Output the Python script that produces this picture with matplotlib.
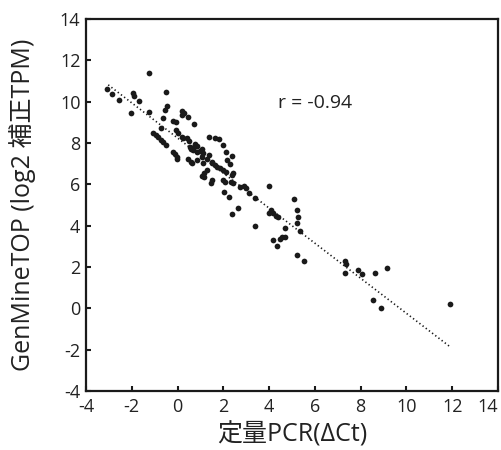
#!/usr/bin/env python3
"""Scatter of GenMineTOP expression vs qPCR delta-Ct, with fitted trend line."""

import matplotlib
matplotlib.use("Agg")
import matplotlib.pyplot as plt

plt.rcParams["font.family"] = ["Open Sans", "Noto Sans CJK JP", "DejaVu Sans"]
plt.rcParams["axes.unicode_minus"] = False

# qPCR delta-Ct (x) and GenMineTOP log2 corrected TPM (y)
pcr_dct = [
    -3.08, -2.88, -2.55, -2.03, -1.96, -1.90, -1.70, -1.24, -1.24, -0.51,
    -0.45, -0.56, -0.64, -1.06, -0.94, -0.84, -0.72, -0.62, -0.51, -0.72,
    -0.19, -0.07, 0.18, 0.28, 0.21, 0.47, 0.73, -0.07, 0.03, 0.18,
    0.25, 0.40, 0.48, -0.21, -0.11, -0.04, -0.01, 0.47, 0.57, 0.64,
    0.75, 0.86, 0.72, 0.53, 0.59, 0.69, 0.86, 0.98, 1.05, 1.12,
    1.08, 1.37, 1.65, 1.81, 2.00, 1.37, 1.27, 1.49, 1.63, 1.73,
    1.85, 2.00, 2.10, 0.83, 1.12, 1.05, 1.15, 1.49, 2.10, 2.39,
    2.14, 2.29, 2.43, 2.36, 2.07, 2.00, 1.49, 1.46, 2.33, 2.41,
    2.72, 2.91, 2.99, 3.10, 3.38, 4.00, 2.04, 2.24, 2.39, 2.65,
    3.37, 3.98, 4.08, 4.18, 4.29, 4.40, 4.15, 4.35, 4.47, 4.55,
    4.69, 4.69, 5.08, 5.20, 5.27, 5.20, 5.34, 5.20, 5.53, 7.31,
    7.34, 7.31, 7.90, 8.04, 8.62, 9.16, 8.55, 8.88, 11.91, 1.27,
    1.16,
]
genmine_tpm = [
    10.60, 10.37, 10.09, 9.43, 10.43, 10.29, 10.01, 11.40, 9.51, 10.45,
    9.79, 9.59, 9.19, 8.50, 8.38, 8.27, 8.14, 8.03, 7.90, 8.71,
    9.05, 9.00, 9.55, 9.46, 9.37, 9.24, 8.92, 8.63, 8.50, 8.30,
    8.22, 8.25, 8.11, 7.55, 7.47, 7.21, 7.33, 7.21, 7.09, 7.04,
    7.95, 7.85, 7.79, 7.82, 7.72, 7.66, 7.58, 7.62, 7.71, 7.53,
    7.31, 8.30, 8.25, 8.18, 7.90, 7.40, 7.21, 7.01, 6.93, 6.85,
    6.77, 6.69, 6.61, 7.17, 7.01, 6.42, 6.37, 7.09, 7.55, 7.38,
    7.17, 6.98, 6.53, 6.45, 6.12, 6.20, 6.20, 6.08, 6.12, 6.05,
    5.88, 5.93, 5.81, 5.59, 5.35, 5.93, 5.64, 5.40, 4.55, 4.84,
    3.97, 4.63, 4.76, 4.60, 4.47, 4.41, 3.31, 3.02, 3.34, 3.43,
    3.46, 3.90, 5.29, 4.76, 4.40, 4.11, 3.74, 2.58, 2.29, 2.29,
    2.15, 1.72, 1.85, 1.64, 1.72, 1.94, 0.40, 0.03, 0.19, 6.69,
    6.53,
]

# regression line end points
fit_x = [-3.03, 11.86]
fit_y = [10.81, -1.82]

INK = "#1a1a1a"
TXT = "#222222"

fig = plt.figure(figsize=(5.01, 4.5), dpi=100)
ax = fig.add_axes([0.1717, 0.131, 0.8223, 0.827])

ax.scatter(pcr_dct, genmine_tpm, s=17, color=INK, linewidths=0, zorder=3)
ax.plot(fit_x, fit_y, linestyle=(0, (0.8, 1.6)), color=INK, lw=1.2, zorder=2)

ax.text(4.38, 9.93, "r = -0.94", fontsize=14, color=TXT,
        ha="left", va="center")

ax.set_xlim(-4, 14)
ax.set_ylim(-4, 14)
ax.set_xticks(range(-4, 15, 2))
ax.set_yticks(range(-4, 15, 2))
ax.tick_params(direction="in", length=3.5, width=1.5, labelsize=13,
               colors=INK, labelcolor=TXT, top=False, right=False)
ax.tick_params(axis="x", pad=5)
ax.tick_params(axis="y", pad=4)
ax.get_xticklabels()[-1].set_horizontalalignment("right")

for side in ax.spines.values():
    side.set_linewidth(1.6)
    side.set_color(INK)

ax.set_xlabel("定量PCR(ΔCt)", fontsize=18, color=TXT)
ax.set_ylabel("GenMineTOP (log2 補正TPM)", fontsize=18, color=TXT)
ax.xaxis.set_label_coords(0.5, -0.083)
ax.yaxis.set_label_coords(-0.122, 0.5)

fig.savefig("out.png", dpi=100)
